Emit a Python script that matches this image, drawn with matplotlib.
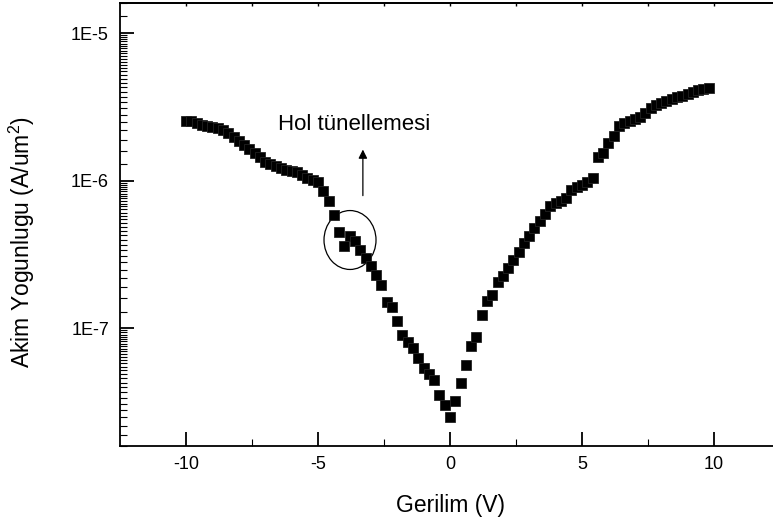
import matplotlib
matplotlib.use("Agg")
import matplotlib.pyplot as plt
from matplotlib import rcParams
from matplotlib.patches import Ellipse
from matplotlib.ticker import FixedLocator, FuncFormatter, NullFormatter
import numpy as np

config = {
    "font.family": "Liberation Sans",
    "mathtext.fontset": "custom",
    "mathtext.rm": "Liberation Sans",
    "mathtext.it": "Liberation Sans",
    "axes.unicode_minus": False,
}
rcParams.update(config)
rcParams["font.size"] = 13

# voltage sweep (V) and current density (A/um^2)
voltage = [
    -10.0, -9.8, -9.6, -9.4, -9.2, -9.0, -8.8, -8.6, -8.4, -8.2,
    -8.0, -7.8, -7.6, -7.4, -7.2, -7.0, -6.8, -6.6, -6.4, -6.2,
    -6.0, -5.8, -5.6, -5.4, -5.2, -5.0, -4.8, -4.6, -4.4, -4.2,
    -4.0, -3.8, -3.6, -3.4, -3.2, -3.0, -2.8, -2.6, -2.4, -2.2,
    -2.0, -1.8, -1.6, -1.4, -1.2, -1.0, -0.8, -0.6, -0.4, -0.2,
    0.0, 0.2, 0.4, 0.6, 0.8, 1.0, 1.2, 1.4, 1.6, 1.8,
    2.0, 2.2, 2.4, 2.6, 2.8, 3.0, 3.2, 3.4, 3.6, 3.8,
    4.0, 4.2, 4.4, 4.6, 4.8, 5.0, 5.2, 5.4, 5.6, 5.8,
    6.0, 6.2, 6.4, 6.6, 6.8, 7.0, 7.2, 7.4, 7.6, 7.8,
    8.0, 8.2, 8.4, 8.6, 8.8, 9.0, 9.2, 9.4, 9.6, 9.8,
]
current = [
    2.55e-6, 2.55e-6, 2.48e-6, 2.40e-6, 2.36e-6, 2.33e-6, 2.29e-6, 2.22e-6, 2.12e-6, 1.99e-6,
    1.87e-6, 1.76e-6, 1.65e-6, 1.55e-6, 1.44e-6, 1.35e-6, 1.29e-6, 1.25e-6, 1.23e-6, 1.19e-6,
    1.17e-6, 1.14e-6, 1.09e-6, 1.05e-6, 1.02e-6, 9.89e-7, 8.47e-7, 7.25e-7, 5.83e-7, 4.47e-7,
    3.60e-7, 4.20e-7, 3.89e-7, 3.38e-7, 2.99e-7, 2.64e-7, 2.29e-7, 1.96e-7, 1.51e-7, 1.39e-7,
    1.12e-7, 9.01e-8, 8.08e-8, 7.36e-8, 6.30e-8, 5.39e-8, 4.91e-8, 4.47e-8, 3.54e-8, 3.03e-8,
    2.52e-8, 3.23e-8, 4.27e-8, 5.65e-8, 7.59e-8, 8.73e-8, 1.23e-7, 1.53e-7, 1.68e-7, 2.06e-7,
    2.26e-7, 2.55e-7, 2.89e-7, 3.28e-7, 3.77e-7, 4.20e-7, 4.76e-7, 5.31e-7, 5.92e-7, 6.71e-7,
    7.02e-7, 7.25e-7, 7.59e-7, 8.73e-7, 9.15e-7, 9.44e-7, 9.89e-7, 1.05e-6, 1.46e-6, 1.55e-6,
    1.79e-6, 2.02e-6, 2.36e-6, 2.48e-6, 2.55e-6, 2.64e-6, 2.72e-6, 2.89e-6, 3.13e-6, 3.28e-6,
    3.38e-6, 3.49e-6, 3.60e-6, 3.71e-6, 3.77e-6, 3.89e-6, 4.01e-6, 4.14e-6, 4.20e-6, 4.27e-6,
]

x_ticks = [-10, -5, 0, 5, 10]
x_minor = [-7.5, -2.5, 2.5, 7.5]
y_ticks = [1e-7, 1e-6, 1e-5]

fig = plt.figure(figsize=(7.73, 5.21), dpi=100)
ax = fig.add_axes([120 / 773, 75 / 521, 660 / 773, 443 / 521])

ax.plot(voltage, current, linestyle="none", marker="s", markersize=7.2,
        markerfacecolor="black", markeredgecolor="#222222", markeredgewidth=0.6)

ax.set_yscale("log")
ax.set_xlim(-12.5, 12.5)
ax.set_ylim(1.6e-8, 1.6e-5)

ax.xaxis.set_major_locator(FixedLocator(x_ticks))
ax.xaxis.set_minor_locator(FixedLocator(x_minor))
ax.yaxis.set_major_locator(FixedLocator(y_ticks))
ax.yaxis.set_major_formatter(FuncFormatter(lambda v, p: "1E%d" % round(np.log10(v))))

# 29 linear minor ticks inside every decade
minor_y = []
for e in range(-9, -4):
    for k in np.arange(1.3, 9.8, 0.3):
        minor_y.append(k * 10.0 ** e)
ax.yaxis.set_minor_locator(FixedLocator(minor_y))
ax.yaxis.set_minor_formatter(NullFormatter())

for s in ax.spines.values():
    s.set_linewidth(1.3)
ax.tick_params(axis="both", which="major", direction="in", length=10, width=1.3, labelsize=13)
ax.tick_params(axis="both", which="minor", direction="in", length=5, width=0.8)
ax.tick_params(axis="x", which="both", pad=7)
ax.tick_params(axis="y", which="both", pad=8)

# short ticks along the top edge
top = ax.secondary_xaxis("top")
top.set_xticks(x_ticks)
top.set_xticks(x_minor, minor=True)
top.tick_params(which="both", direction="in", length=2.5, width=1.0, labeltop=False)
top.spines["top"].set_linewidth(1.3)

ax.set_xlabel("Gerilim (V)", fontsize=16.5)
ax.set_ylabel("Akim Yogunlugu (A/um$^2$)", fontsize=16.5)
ax.xaxis.set_label_coords(0.5, -0.109)
ax.yaxis.set_label_coords(-0.126, 0.46)

# annotation: circle around the shoulder and arrow to label
ax.add_patch(Ellipse((0.3485, 0.465), 0.0788, 0.133, transform=ax.transAxes,
                     fill=False, edgecolor="black", linewidth=0.9))
ax.annotate("", xy=(-3.3, 1.7e-6), xytext=(-3.3, 7.6e-7),
            arrowprops=dict(arrowstyle="-|>", color="black", lw=0.9, mutation_scale=13))
ax.text(-6.5, 2.4e-6, "Hol tünellemesi", fontsize=16, va="center", ha="left")

fig.savefig("out.png", dpi=100)
